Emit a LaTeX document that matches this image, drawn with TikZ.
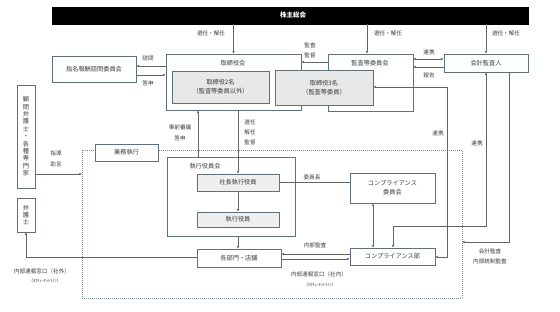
\documentclass[tikz,border=0pt]{standalone}
\usepackage{fontspec}
\setmainfont{Noto Sans CJK JP}
\usetikzlibrary{arrows.meta}
\definecolor{bc}{RGB}{95,112,125}
\definecolor{lc}{RGB}{100,100,100}
\definecolor{tc}{RGB}{60,60,60}
\definecolor{gf}{RGB}{232,232,232}
\begin{document}
\begin{tikzpicture}[x=1pt,y=-1pt,
  box/.style={draw=bc, line width=0.6pt, fill=white, inner sep=0pt, text=tc,
    font=\fontsize{6.2}{9}\selectfont, align=center},
  gbox/.style={box, fill=gf},
  lbl/.style={text=tc, font=\fontsize{5.6}{7}\selectfont, inner sep=0pt},
  tiny/.style={text=tc, font=\fontsize{4.3}{5}\selectfont, inner sep=0pt},
  ln/.style={draw=lc, line width=0.6pt},
  arr/.style={ln, -{Latex[length=2.6pt,width=2.4pt]}},
  arr2/.style={ln, {Latex[length=2.6pt,width=2.4pt]}-{Latex[length=2.6pt,width=2.4pt]}}
]
\useasboundingbox (0,0) rectangle (560,311);
% dashed region
\draw[draw=bc!80, line width=0.5pt, dash pattern=on 1pt off 1pt] (82,150) rectangle (462,298);

% top bar
\node[fill=black, draw=black, minimum width=476pt, minimum height=17pt, inner sep=0pt,
  text=white, font=\fontsize{6.5}{8}\selectfont\bfseries] (bar) at (290,15.5) {};
\node[text=white, font=\fontsize{6.5}{8}\selectfont\bfseries] (bartxt) at (293,15.5) {株主総会};

% boxes
\node[box, minimum width=135pt, minimum height=56pt] (tk) at (233.5,82) {};
\node[lbl, font=\fontsize{6.2}{8}\selectfont] (tkl) at (233,63) {取締役会};
\node[gbox, minimum width=97pt, minimum height=32pt] (tk2) at (220.5,87) {取締役2名\\（監査等委員以外）};
\node[box, minimum width=85pt, minimum height=57pt] (ka) at (370.5,82.5) {};
\node[lbl, font=\fontsize{6.2}{8}\selectfont] (kal) at (370,63) {監査等委員会};
\node[gbox, minimum width=98pt, minimum height=35pt] (tk3) at (324,87.5) {取締役3名\\（監査等委員）};
\node[box, minimum width=84pt, minimum height=18pt] (kk) at (486,63) {会計監査人};
\node[box, minimum width=84pt, minimum height=26pt] (sm) at (94,69) {指名報酬諮問委員会};
\node[box, minimum width=18pt, minimum height=103pt, font=\fontsize{6.2}{7.4}\selectfont] (km) at (26,136.5)
  {顧\\問\\弁\\護\\士\\・\\各\\種\\専\\門\\家};
\node[box, minimum width=18pt, minimum height=34pt, font=\fontsize{6.2}{7.4}\selectfont] (bg) at (26,215) {弁\\護\\士};
\node[box, minimum width=63pt, minimum height=17pt] (gm) at (126.5,152.5) {業務執行};
\node[box, minimum width=128pt, minimum height=79pt] (sk) at (231,196.5) {};
\node[lbl, font=\fontsize{6.2}{8}\selectfont] (skl) at (205,166) {執行役員会};
\node[gbox, fill=gf!70, minimum width=82pt, minimum height=17pt] (sc) at (238,182.5) {社長執行役員};
\node[gbox, fill=gf!70, minimum width=82pt, minimum height=15pt] (sy) at (238,219.5) {執行役員};
\node[box, minimum width=84pt, minimum height=18pt] (kb) at (239,258) {各部門・店舗};
\node[box, minimum width=85pt, minimum height=30pt] (ci) at (392.5,188) {コンプライアンス\\委員会};
\node[box, minimum width=85pt, minimum height=17pt] (cb) at (392.5,256.5) {コンプライアンス部};

% connectors
\draw[arr] (tk.north |- bar.south) -- (tk.north);
\draw[arr] (bar.south -| 367,0) -- (ka.north -| 367,0);
\draw[arr] (kk.north |- bar.south) -- (kk.north);
\draw[arr] (ka.west |- 0,62) -- (tk.east |- 0,62);
\draw[arr2] (ka.east |- 0,59) -- (kk.west |- 0,59);
\draw[arr] (kk.west |- 0,67) -- (ka.east |- 0,67);
\draw[arr] (tk.west |- 0,66) -- (sm.east |- 0,66);
\draw[arr] (sm.east |- 0,75) -- (tk.west |- 0,75);
\draw[arr] (sc.north |- tk.south) -- (sc.north);
\draw[arr] (sk.north -| 198,0) -- (tk.south -| 198,0);
\draw[arr] (sc.south) -- (sy.north);
\draw[arr] (sk.south -| sc.south) -- (kb.north -| sc.south);
\draw[ln] (sc.east) -- (ci.west |- sc.east);
\draw[arr2] (ci.south -| 373,0) -- (cb.north -| 373,0);
\draw[arr2] (kk.south) -- (486,226) -- (393,226) -- (cb.north -| 393,0);
\draw[arr2] (tk3.east |- 0,87) -- (447,87) -- (447,257) -- (cb.east |- 0,257);
\coordinate (dr) at (462,242);
\draw[arr] (kk.south -| 509,0) -- (509,242) -- (dr);
\draw[arr] (cb.west |- 0,254) -- (kb.east |- 0,254);
\draw[arr] (kb.east |- 0,259) -- (cb.west |- 0,259);
\draw[arr] (kb.west |- 0,257) -- (26,257) -- (bg.south);
\coordinate (dl) at (82,174);
\draw[arr] (km.east |- 0,174) -- (dl);

% labels
\node[lbl] at (211,33) {選任・解任};
\node[lbl] at (388,33) {選任・解任};
\node[lbl] at (506,33) {選任・解任};
\node[lbl] at (310,45) {監査};
\node[lbl] at (310,55) {監督};
\node[lbl] at (429,52) {連携};
\node[lbl] at (429,75) {報告};
\node[lbl] at (148,58) {諮問};
\node[lbl] at (148,83) {答申};
\node[lbl] at (180,127) {事前審議};
\node[lbl] at (180,138) {答申};
\node[lbl] at (250,122) {選任};
\node[lbl] at (250,132) {解任};
\node[lbl] at (250,142) {監督};
\node[lbl] at (56,153) {指導};
\node[lbl] at (56,164) {助言};
\node[lbl] at (312,177) {委員長};
\node[lbl] at (438,133) {連携};
\node[lbl] at (477,143) {連携};
\node[lbl] at (490,251) {会計監査};
\node[lbl] at (490,261) {内部統制監査};
\node[lbl] at (315,245) {内部監査};
\node[lbl] at (319,274) {内部通報窓口（社内）};
\node[tiny] at (320,285) {（ﾀｶｷｭｰﾎｯﾄﾗｲﾝ）};
\node[lbl] at (42,271) {内部通報窓口（社外）};
\node[tiny] at (45,281) {（ﾀｶｷｭｰﾎｯﾄﾗｲﾝ）};
\end{tikzpicture}
\end{document}
